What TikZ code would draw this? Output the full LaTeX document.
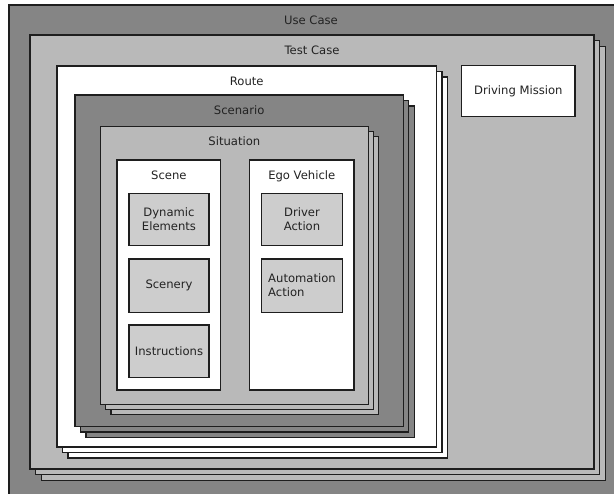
\documentclass[tikz,border=0pt]{standalone}
\usepackage{fontspec}
\setmainfont{DejaVu Sans}
\usetikzlibrary{shadows}
\definecolor{darkfill}{HTML}{858585}
\definecolor{midfill}{HTML}{B9B9B9}
\definecolor{lightfill}{HTML}{CDCDCD}
\definecolor{edge}{HTML}{1E1E1E}
\definecolor{ink}{HTML}{222222}
\begin{document}
\begin{tikzpicture}[x=1pt,y=-1pt,
  box/.style={draw=edge, line width=1.2pt, rectangle, inner sep=0pt,
    outer sep=0pt, anchor=north west, text=ink,
    font=\fontsize{11.6}{14}\selectfont},
  % two copies of a box behind it, shifted down and right
  stack/.style n args={3}{
    general shadow={shadow xshift=#2, shadow yshift=-#2, opacity=1,
      fill=#3, draw=edge, line width=1.2pt},
    general shadow={shadow xshift=#1, shadow yshift=-#1, opacity=1,
      fill=#3, draw=edge, line width=1.2pt}},
  title/.style={anchor=base, text=ink, font=\fontsize{11.6}{14}\selectfont},
]
\useasboundingbox (0,0) rectangle (614,494);

% outermost level
\node[box, fill=darkfill, minimum width=607pt, minimum height=495pt]
  (usecase) at (9,5) {};
\node[title] (usecaseT) at (311,25) {Use Case};

\node[box, fill=midfill, minimum width=564pt, minimum height=434pt,
  stack={5.8pt}{11.6pt}{midfill}] (testcase) at (30,35) {};
\node[title] (testcaseT) at ([yshift=-19.8pt]testcase.north) {Test Case};

\node[box, fill=white, minimum width=113.3pt, minimum height=51pt]
  (mission) at (461.7,65.7) {Driving Mission};

\node[box, fill=white, minimum width=379.5pt, minimum height=381pt,
  stack={5.5pt}{11pt}{white}] (route) at (57,66) {};
\node[title] (routeT) at ([yshift=-19.2pt]route.north) {Route};

\node[box, fill=darkfill, minimum width=328.3pt, minimum height=331.5pt,
  stack={5.5pt}{11pt}{darkfill}] (scenario) at (75,95) {};
\node[title] (scenarioT) at ([yshift=-19.2pt]scenario.north) {Scenario};

\node[box, fill=midfill, minimum width=267.8pt, minimum height=277.8pt,
  stack={5.2pt}{10.4pt}{midfill}] (situation) at (100.5,126.5) {};
\node[title] (situationT) at ([yshift=-19.5pt]situation.north) {Situation};

% scene and its elements
\node[box, fill=white, minimum width=103.7pt, minimum height=230pt]
  (scene) at (117,160) {};
\node[title] (sceneT) at ([yshift=-19.3pt]scene.north) {Scene};

\node[box, fill=lightfill, minimum width=80pt, minimum height=52.2pt, align=center]
  (dynamic) at (129,193.3) {Dynamic\\Elements};
\node[box, fill=lightfill, minimum width=80pt, minimum height=53.3pt]
  (scenery) at (129,259) {Scenery};
\node[box, fill=lightfill, minimum width=80pt, minimum height=52.7pt]
  (instructions) at (129,325) {Instructions};

% ego vehicle and its actions
\node[box, fill=white, minimum width=104.5pt, minimum height=230pt]
  (ego) at (249.5,160) {};
\node[title] (egoT) at ([yshift=-19.3pt]ego.north) {Ego Vehicle};

\node[box, fill=lightfill, minimum width=80.6pt, minimum height=52pt, align=center]
  (driver) at (261.7,193.3) {Driver\\Action};
\node[box, fill=lightfill, minimum width=80.6pt, minimum height=53.3pt, align=left]
  (automation) at (261.7,259) {Automation\\Action};
\end{tikzpicture}
\end{document}
